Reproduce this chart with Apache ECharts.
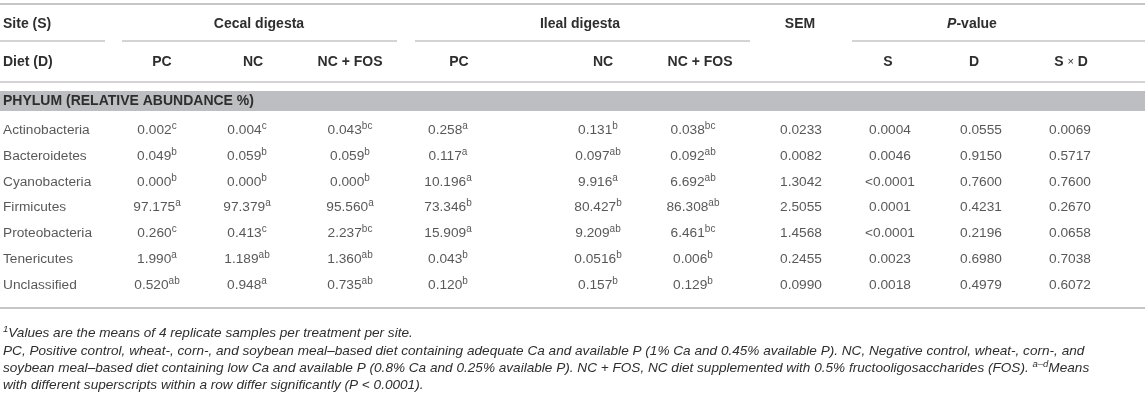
<!DOCTYPE html>
<html>
<head>
<meta charset="utf-8">
<script src="https://cdn.jsdelivr.net/npm/echarts@6/dist/echarts.min.js"></script>
<style>
  html, body { margin: 0; padding: 0; background: #fff; }
  #main { width: 1145px; height: 402px; }
</style>
</head>
<body>
<div id="main"></div>
<script>
// table rows
var taxa = ['Actinobacteria', 'Bacteroidetes', 'Cyanobacteria', 'Firmicutes', 'Proteobacteria', 'Tenericutes', 'Unclassified'];

// cecal digesta
var cecalPC = ['0.002', '0.049', '0.000', '97.175', '0.260', '1.990', '0.520'];
var cecalPCSig = ['c', 'b', 'b', 'a', 'c', 'a', 'ab'];
var cecalNC = ['0.004', '0.059', '0.000', '97.379', '0.413', '1.189', '0.948'];
var cecalNCSig = ['c', 'b', 'b', 'a', 'c', 'ab', 'a'];
var cecalFOS = ['0.043', '0.059', '0.000', '95.560', '2.237', '1.360', '0.735'];
var cecalFOSSig = ['bc', 'b', 'b', 'a', 'bc', 'ab', 'ab'];

// ileal digesta
var ilealPC = ['0.258', '0.117', '10.196', '73.346', '15.909', '0.043', '0.120'];
var ilealPCSig = ['a', 'a', 'a', 'b', 'a', 'b', 'b'];
var ilealNC = ['0.131', '0.097', '9.916', '80.427', '9.209', '0.0516', '0.157'];
var ilealNCSig = ['b', 'ab', 'a', 'b', 'ab', 'b', 'b'];
var ilealFOS = ['0.038', '0.092', '6.692', '86.308', '6.461', '0.006', '0.129'];
var ilealFOSSig = ['bc', 'ab', 'ab', 'ab', 'bc', 'b', 'b'];

// SEM and P-values
var sem = ['0.0233', '0.0082', '1.3042', '2.5055', '1.4568', '0.2455', '0.0990'];
var pSite = ['0.0004', '0.0046', '<0.0001', '0.0001', '<0.0001', '0.0023', '0.0018'];
var pDiet = ['0.0555', '0.9150', '0.7600', '0.4231', '0.2196', '0.6980', '0.4979'];
var pInter = ['0.0069', '0.5717', '0.7600', '0.2670', '0.0658', '0.7038', '0.6072'];

// layout (pixels)
var W = 1145;
var colX = [157, 247, 350, 448, 598, 693, 801, 890, 981, 1070];
var columns = [
    [cecalPC, cecalPCSig], [cecalNC, cecalNCSig], [cecalFOS, cecalFOSSig],
    [ilealPC, ilealPCSig], [ilealNC, ilealNCSig], [ilealFOS, ilealFOSSig],
    [sem], [pSite], [pDiet], [pInter]
];

var FONT = '"Liberation Sans", Arial, Helvetica, sans-serif';
var TXT = '#2e2e2e';
var LINE = '#c6c6c6';
var HSIZE = 14;

var cellRich = {
    v: { fontFamily: FONT, fontSize: 13.7, color: TXT, lineHeight: 18 },
    s: { fontFamily: FONT, fontSize: 10, color: TXT, lineHeight: 11, verticalAlign: 'top' }
};

var series = [];
// taxon names column
series.push({
    type: 'scatter',
    symbolSize: 0,
    silent: true,
    data: taxa.map(function (t, i) { return [3, i, t]; }),
    label: {
        show: true, position: 'inside', align: 'left',
        fontFamily: FONT, fontSize: 13.7, color: TXT,
        formatter: function (p) { return p.data[2]; }
    }
});
columns.forEach(function (col, c) {
    series.push({
        type: 'scatter',
        symbolSize: 0,
        silent: true,
        data: col[0].map(function (v, i) { return [colX[c], i, v, col[1] ? col[1][i] : '']; }),
        label: {
            show: true, position: 'inside', align: 'center',
            rich: cellRich,
            formatter: function (p) {
                var txt = '{v|' + p.data[2] + '}';
                if (p.data[3]) txt += '{s|' + p.data[3] + '}';
                return txt;
            }
        }
    });
});

function hText(x, y, text, align, rich) {
    return {
        type: 'text', silent: true,
        style: {
            x: x, y: y, text: text,
            align: align, textAlign: align,
            verticalAlign: 'middle', textVerticalAlign: 'middle',
            font: 'bold ' + HSIZE + 'px ' + FONT, fill: TXT,
            rich: rich
        }
    };
}
function hLine(x1, x2, y, w) {
    return {
        type: 'line', silent: true,
        shape: { x1: x1, y1: y, x2: x2, y2: y },
        style: { stroke: LINE, lineWidth: w || 2 }
    };
}

var boldRich = {
    b: { fontFamily: FONT, fontSize: HSIZE, fontWeight: 'bold', color: TXT },
    i: { fontFamily: FONT, fontSize: HSIZE, fontWeight: 'bold', fontStyle: 'italic', color: TXT },
    x: { fontFamily: FONT, fontSize: 11, color: TXT }
};
var noteRich = {
    n: { fontFamily: FONT, fontSize: 13.6, fontStyle: 'italic', color: TXT, lineHeight: 17 },
    u: { fontFamily: FONT, fontSize: 9.5, fontStyle: 'italic', color: TXT, lineHeight: 11, verticalAlign: 'top' }
};
function note(y, text) {
    return {
        type: 'text', silent: true,
        style: {
            x: 3, y: y, text: text, rich: noteRich,
            align: 'left', textAlign: 'left',
            verticalAlign: 'middle', textVerticalAlign: 'middle',
            fill: TXT
        }
    };
}

var graphics = [
    hLine(0, W, 4),
    hText(3, 24, 'Site (S)', 'left'),
    hText(259, 24, 'Cecal digesta', 'center'),
    hText(580, 24, 'Ileal digesta', 'center'),
    hText(800, 24, 'SEM', 'center'),
    hText(972, 24, '{i|P}{b|-value}', 'center', boldRich),
    hLine(0, 105, 41, 1.5),
    hLine(122, 397, 41, 1.5),
    hLine(415, 750, 41, 1.5),
    hLine(852, W, 41, 1.5),
    hText(3, 62, 'Diet (D)', 'left'),
    hText(162, 62, 'PC', 'center'),
    hText(253, 62, 'NC', 'center'),
    hText(350, 62, 'NC + FOS', 'center'),
    hText(459, 62, 'PC', 'center'),
    hText(603, 62, 'NC', 'center'),
    hText(700, 62, 'NC + FOS', 'center'),
    hText(888, 62, 'S', 'center'),
    hText(974, 62, 'D', 'center'),
    hText(1071, 62, '{b|S }{x|×}{b| D}', 'center', boldRich),
    hLine(0, W, 82, 1.5),
    {
        type: 'rect', silent: true, z: -1,
        shape: { x: 0, y: 91, width: W, height: 20 },
        style: { fill: '#bdbec1' }
    },
    hText(3, 101.5, 'PHYLUM (RELATIVE ABUNDANCE %)', 'left'),
    hLine(0, W, 308, 2),
    note(333, '{u|1}{n|Values are the means of 4 replicate samples per treatment per site.}'),
    note(351, '{n|PC, Positive control, wheat-, corn-, and soybean meal–based diet containing adequate Ca and available P (1% Ca and 0.45% available P). NC, Negative control, wheat-, corn-, and}'),
    note(368, '{n|soybean meal–based diet containing low Ca and available P (0.8% Ca and 0.25% available P). NC + FOS, NC diet supplemented with 0.5% fructooligosaccharides (FOS). }{u|a–d}{n|Means}'),
    note(385, '{n|with different superscripts within a row differ significantly (P < 0.0001).}')
];

var chart = echarts.init(document.getElementById('main'), null, { renderer: 'canvas' });
chart.setOption({
    animation: false,
    backgroundColor: '#fff',
    grid: { left: 0, right: 0, top: 117, height: 181.3 },
    xAxis: { type: 'value', min: 0, max: W, show: false },
    yAxis: { type: 'category', data: taxa, inverse: true, show: false },
    series: series,
    graphic: graphics
});
</script>
</body>
</html>
